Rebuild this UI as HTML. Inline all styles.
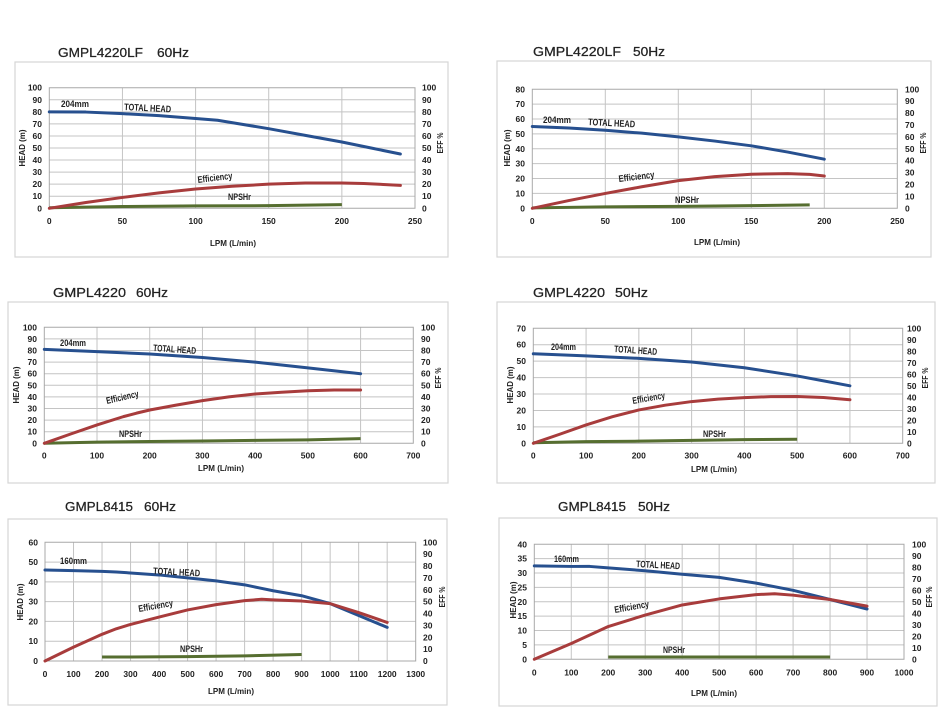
<!DOCTYPE html>
<html><head><meta charset="utf-8"><style>
html,body{margin:0;padding:0;background:#fff;}
svg{display:block;}
.t{font-family:"Liberation Sans",sans-serif;font-size:13px;fill:#222;stroke:#222;stroke-width:0.25;}
.k{font-family:"Liberation Sans",sans-serif;font-size:8.5px;font-weight:bold;fill:#222;}
.a{font-family:"Liberation Sans",sans-serif;font-size:8.5px;font-weight:bold;fill:#222;}
.c{font-family:"Liberation Sans",sans-serif;font-size:9.5px;font-weight:bold;fill:#222;}
.box{fill:#fff;stroke:#d6d6d6;stroke-width:1.2;}
.g{fill:none;stroke:#c4c4c4;stroke-width:1;}
.b{fill:none;stroke:#a8a8a8;stroke-width:1;}
.h{fill:none;stroke:#27508f;stroke-width:3;stroke-linejoin:round;stroke-linecap:round;}
.e{fill:none;stroke:#a83c3c;stroke-width:3;stroke-linejoin:round;stroke-linecap:round;}
.n{fill:none;stroke:#566e30;stroke-width:3;stroke-linejoin:round;}
</style></head><body>
<svg width="940" height="722" viewBox="0 0 940 722" xmlns="http://www.w3.org/2000/svg">
<rect x="0" y="0" width="940" height="722" fill="#fff"/>

<!-- ============ CHART 1 ============ -->
<rect class="box" x="15" y="62" width="433" height="195"/>
<text class="t" x="58" y="57" textLength="85" lengthAdjust="spacingAndGlyphs">GMPL4220LF</text>
<text class="t" x="157" y="57" textLength="32" lengthAdjust="spacingAndGlyphs">60Hz</text>
<g transform="translate(49.3,208.3) scale(1.4628,-1.206)">
<path class="g" vector-effect="non-scaling-stroke" d="M0 10H250M0 20H250M0 30H250M0 40H250M0 50H250M0 60H250M0 70H250M0 80H250M0 90H250M50 0V100M100 0V100M150 0V100M200 0V100"/>
<rect class="b" vector-effect="non-scaling-stroke" x="0" y="0" width="250" height="100"/>
<polyline class="n" vector-effect="non-scaling-stroke" points="0,0.5 50,1.5 100,2 150,2.2 200,3"/>
<polyline class="e" vector-effect="non-scaling-stroke" points="0,0 25,4.8 50,9 75,12.8 100,16 125,18.3 150,20 175,21 200,21 215,20.6 240,19"/>
<polyline class="h" vector-effect="non-scaling-stroke" points="0,80 25,79.8 50,78.5 75,76.8 100,74.5 115,73 130,70 150,66 175,60.5 200,55 220,50 240,45"/>
</g>
<g class="k" text-anchor="end">
<text x="42" y="211.3">0</text><text x="42" y="199.2">10</text><text x="42" y="187.2">20</text><text x="42" y="175.1">30</text><text x="42" y="163.1">40</text><text x="42" y="151">50</text><text x="42" y="138.9">60</text><text x="42" y="126.9">70</text><text x="42" y="114.8">80</text><text x="42" y="102.8">90</text><text x="42" y="90.7">100</text>
</g>
<g class="k">
<text x="422" y="211.3">0</text><text x="422" y="199.2">10</text><text x="422" y="187.2">20</text><text x="422" y="175.1">30</text><text x="422" y="163.1">40</text><text x="422" y="151">50</text><text x="422" y="138.9">60</text><text x="422" y="126.9">70</text><text x="422" y="114.8">80</text><text x="422" y="102.8">90</text><text x="422" y="90.7">100</text>
</g>
<g class="k" text-anchor="middle">
<text x="49.3" y="224">0</text><text x="122.4" y="224">50</text><text x="195.6" y="224">100</text><text x="268.7" y="224">150</text><text x="341.9" y="224">200</text><text x="415" y="224">250</text>
</g>
<text class="a" text-anchor="middle" transform="translate(25,148) rotate(-90)" textLength="37" lengthAdjust="spacingAndGlyphs">HEAD (m)</text>
<text class="a" text-anchor="middle" transform="translate(443,143) rotate(-90)" textLength="21" lengthAdjust="spacingAndGlyphs">EFF %</text>
<text class="a" x="233" y="246" text-anchor="middle" textLength="46" lengthAdjust="spacingAndGlyphs">LPM (L/min)</text>
<text class="c" x="61" y="107" textLength="28" lengthAdjust="spacingAndGlyphs">204mm</text>
<text class="c" x="124" y="110" textLength="47" lengthAdjust="spacingAndGlyphs" transform="rotate(3,124,110)">TOTAL HEAD</text>
<text class="c" x="198" y="183" textLength="35" lengthAdjust="spacingAndGlyphs" transform="rotate(-7,198,183)">Efficiency</text>
<text class="c" x="228" y="200" textLength="23" lengthAdjust="spacingAndGlyphs">NPSHr</text>

<!-- ============ CHART 2 ============ -->
<rect class="box" x="497" y="61" width="434" height="196"/>
<text class="t" x="533" y="56" textLength="88" lengthAdjust="spacingAndGlyphs">GMPL4220LF</text>
<text class="t" x="633" y="56" textLength="32" lengthAdjust="spacingAndGlyphs">50Hz</text>
<g transform="translate(532.3,208.3) scale(1.46,-1.4875)">
<path class="g" vector-effect="non-scaling-stroke" d="M0 10H250M0 20H250M0 30H250M0 40H250M0 50H250M0 60H250M0 70H250M50 0V80M100 0V80M150 0V80M200 0V80"/>
<rect class="b" vector-effect="non-scaling-stroke" x="0" y="0" width="250" height="80"/>
<polyline class="n" vector-effect="non-scaling-stroke" points="0,0.3 50,1 100,1.3 150,1.8 190,2.3"/>
<polyline class="e" vector-effect="non-scaling-stroke" points="0,0 25,5.2 50,10 75,14.5 100,18.6 125,21.3 150,22.9 175,23.3 190,22.8 200,21.7"/>
<polyline class="h" vector-effect="non-scaling-stroke" points="0,55 25,54 50,52.5 75,50.5 100,48 125,45.2 150,42 175,37.8 200,33"/>
</g>
<g class="k" text-anchor="end">
<text x="525" y="211.3">0</text><text x="525" y="196.4">10</text><text x="525" y="181.5">20</text><text x="525" y="166.7">30</text><text x="525" y="151.8">40</text><text x="525" y="136.9">50</text><text x="525" y="122.1">60</text><text x="525" y="107.2">70</text><text x="525" y="92.3">80</text>
</g>
<g class="k">
<text x="905" y="211.3">0</text><text x="905" y="199.4">10</text><text x="905" y="187.5">20</text><text x="905" y="175.6">30</text><text x="905" y="163.7">40</text><text x="905" y="151.8">50</text><text x="905" y="139.9">60</text><text x="905" y="128">70</text><text x="905" y="116.1">80</text><text x="905" y="104.2">90</text><text x="905" y="92.3">100</text>
</g>
<g class="k" text-anchor="middle">
<text x="532.3" y="224">0</text><text x="605.3" y="224">50</text><text x="678.3" y="224">100</text><text x="751.3" y="224">150</text><text x="824.3" y="224">200</text><text x="897.3" y="224">250</text>
</g>
<text class="a" text-anchor="middle" transform="translate(510,148) rotate(-90)" textLength="37" lengthAdjust="spacingAndGlyphs">HEAD (m)</text>
<text class="a" text-anchor="middle" transform="translate(926,143) rotate(-90)" textLength="21" lengthAdjust="spacingAndGlyphs">EFF %</text>
<text class="a" x="717" y="245" text-anchor="middle" textLength="46" lengthAdjust="spacingAndGlyphs">LPM (L/min)</text>
<text class="c" x="543" y="123" textLength="28" lengthAdjust="spacingAndGlyphs">204mm</text>
<text class="c" x="588" y="125" textLength="47" lengthAdjust="spacingAndGlyphs" transform="rotate(3,588,125)">TOTAL HEAD</text>
<text class="c" x="619" y="182" textLength="36" lengthAdjust="spacingAndGlyphs" transform="rotate(-7,619,182)">Efficiency</text>
<text class="c" x="675" y="203" textLength="24" lengthAdjust="spacingAndGlyphs">NPSHr</text>

<!-- ============ CHART 3 ============ -->
<rect class="box" x="8" y="302" width="440" height="181"/>
<text class="t" x="53" y="297" textLength="73" lengthAdjust="spacingAndGlyphs">GMPL4220</text>
<text class="t" x="136" y="297" textLength="32" lengthAdjust="spacingAndGlyphs">60Hz</text>
<g transform="translate(44.3,443.3) scale(0.52714,-1.16)">
<path class="g" vector-effect="non-scaling-stroke" d="M0 10H700M0 20H700M0 30H700M0 40H700M0 50H700M0 60H700M0 70H700M0 80H700M0 90H700M100 0V100M200 0V100M300 0V100M400 0V100M500 0V100M600 0V100"/>
<rect class="b" vector-effect="non-scaling-stroke" x="0" y="0" width="700" height="100"/>
<polyline class="n" vector-effect="non-scaling-stroke" points="0,0 100,1 200,1.5 300,2 400,2.5 500,3 600,4"/>
<polyline class="e" vector-effect="non-scaling-stroke" points="0,0 50,8 100,15.8 150,23 175,26 200,28.7 250,32.9 300,36.8 350,40 400,42.5 450,44 500,45.3 550,46 600,46"/>
<polyline class="h" vector-effect="non-scaling-stroke" points="0,81 100,79 200,77 300,74 400,70 500,65 600,60"/>
</g>
<g class="k" text-anchor="end">
<text x="37" y="446.3">0</text><text x="37" y="434.7">10</text><text x="37" y="423.1">20</text><text x="37" y="411.5">30</text><text x="37" y="399.9">40</text><text x="37" y="388.3">50</text><text x="37" y="376.7">60</text><text x="37" y="365.1">70</text><text x="37" y="353.5">80</text><text x="37" y="341.9">90</text><text x="37" y="330.3">100</text>
</g>
<g class="k">
<text x="421" y="446.3">0</text><text x="421" y="434.7">10</text><text x="421" y="423.1">20</text><text x="421" y="411.5">30</text><text x="421" y="399.9">40</text><text x="421" y="388.3">50</text><text x="421" y="376.7">60</text><text x="421" y="365.1">70</text><text x="421" y="353.5">80</text><text x="421" y="341.9">90</text><text x="421" y="330.3">100</text>
</g>
<g class="k" text-anchor="middle">
<text x="44.3" y="458.5">0</text><text x="97" y="458.5">100</text><text x="149.7" y="458.5">200</text><text x="202.4" y="458.5">300</text><text x="255.2" y="458.5">400</text><text x="307.9" y="458.5">500</text><text x="360.6" y="458.5">600</text><text x="413.3" y="458.5">700</text>
</g>
<text class="a" text-anchor="middle" transform="translate(19,385) rotate(-90)" textLength="37" lengthAdjust="spacingAndGlyphs">HEAD (m)</text>
<text class="a" text-anchor="middle" transform="translate(441,378) rotate(-90)" textLength="21" lengthAdjust="spacingAndGlyphs">EFF %</text>
<text class="a" x="221" y="471" text-anchor="middle" textLength="46" lengthAdjust="spacingAndGlyphs">LPM (L/min)</text>
<text class="c" x="60" y="346" textLength="26" lengthAdjust="spacingAndGlyphs">204mm</text>
<text class="c" x="153" y="351" textLength="43" lengthAdjust="spacingAndGlyphs" transform="rotate(4,153,351)">TOTAL HEAD</text>
<text class="c" x="107" y="404" textLength="33" lengthAdjust="spacingAndGlyphs" transform="rotate(-13,107,404)">Efficiency</text>
<text class="c" x="119" y="437" textLength="23" lengthAdjust="spacingAndGlyphs">NPSHr</text>

<!-- ============ CHART 4 ============ -->
<rect class="box" x="497" y="302" width="438" height="181"/>
<text class="t" x="533" y="297" textLength="72" lengthAdjust="spacingAndGlyphs">GMPL4220</text>
<text class="t" x="615" y="297" textLength="33" lengthAdjust="spacingAndGlyphs">50Hz</text>
<g transform="translate(533.3,443.3) scale(0.52771,-1.642857)">
<path class="g" vector-effect="non-scaling-stroke" d="M0 10H700M0 20H700M0 30H700M0 40H700M0 50H700M0 60H700M100 0V70M200 0V70M300 0V70M400 0V70M500 0V70M600 0V70"/>
<rect class="b" vector-effect="non-scaling-stroke" x="0" y="0" width="700" height="70"/>
<polyline class="n" vector-effect="non-scaling-stroke" points="0,0.3 100,1 200,1.3 300,1.8 400,2.2 500,2.5"/>
<polyline class="e" vector-effect="non-scaling-stroke" points="0,0 50,5.5 100,11.2 150,16.2 200,20.3 250,23.2 300,25.4 350,26.9 400,27.8 450,28.4 500,28.5 550,27.9 600,26.5"/>
<polyline class="h" vector-effect="non-scaling-stroke" points="0,54.5 100,53.2 200,51.7 300,49.5 400,46 500,41 600,35"/>
</g>
<g class="k" text-anchor="end">
<text x="526" y="446.3">0</text><text x="526" y="429.9">10</text><text x="526" y="413.4">20</text><text x="526" y="397">30</text><text x="526" y="380.6">40</text><text x="526" y="364.2">50</text><text x="526" y="347.7">60</text><text x="526" y="331.3">70</text>
</g>
<g class="k">
<text x="907" y="446.3">0</text><text x="907" y="434.8">10</text><text x="907" y="423.3">20</text><text x="907" y="411.8">30</text><text x="907" y="400.3">40</text><text x="907" y="388.8">50</text><text x="907" y="377.3">60</text><text x="907" y="365.8">70</text><text x="907" y="354.3">80</text><text x="907" y="342.8">90</text><text x="907" y="331.3">100</text>
</g>
<g class="k" text-anchor="middle">
<text x="533.3" y="458.5">0</text><text x="586.1" y="458.5">100</text><text x="638.8" y="458.5">200</text><text x="691.6" y="458.5">300</text><text x="744.4" y="458.5">400</text><text x="797.2" y="458.5">500</text><text x="849.9" y="458.5">600</text><text x="902.7" y="458.5">700</text>
</g>
<text class="a" text-anchor="middle" transform="translate(513,385) rotate(-90)" textLength="37" lengthAdjust="spacingAndGlyphs">HEAD (m)</text>
<text class="a" text-anchor="middle" transform="translate(928,378) rotate(-90)" textLength="21" lengthAdjust="spacingAndGlyphs">EFF %</text>
<text class="a" x="714" y="472" text-anchor="middle" textLength="46" lengthAdjust="spacingAndGlyphs">LPM (L/min)</text>
<text class="c" x="551" y="350" textLength="25" lengthAdjust="spacingAndGlyphs">204mm</text>
<text class="c" x="614" y="352" textLength="43" lengthAdjust="spacingAndGlyphs" transform="rotate(4,614,352)">TOTAL HEAD</text>
<text class="c" x="633" y="404" textLength="33" lengthAdjust="spacingAndGlyphs" transform="rotate(-10,633,404)">Efficiency</text>
<text class="c" x="703" y="437" textLength="23" lengthAdjust="spacingAndGlyphs">NPSHr</text>

<!-- ============ CHART 5 ============ -->
<rect class="box" x="8" y="519" width="439" height="186"/>
<text class="t" x="65" y="511" textLength="68" lengthAdjust="spacingAndGlyphs">GMPL8415</text>
<text class="t" x="144" y="511" textLength="32" lengthAdjust="spacingAndGlyphs">60Hz</text>
<g transform="translate(45,661) scale(0.28515,-1.97833)">
<path class="g" vector-effect="non-scaling-stroke" d="M0 10H1300M0 20H1300M0 30H1300M0 40H1300M0 50H1300M100 0V60M200 0V60M300 0V60M400 0V60M500 0V60M600 0V60M700 0V60M800 0V60M900 0V60M1000 0V60M1100 0V60M1200 0V60"/>
<rect class="b" vector-effect="non-scaling-stroke" x="0" y="0" width="1300" height="60"/>
<polyline class="n" vector-effect="non-scaling-stroke" points="200,2 300,2 500,2.2 700,2.6 900,3.3"/>
<polyline class="h" vector-effect="non-scaling-stroke" points="0,46 100,45.7 200,45.3 250,45 300,44.5 400,43.5 500,42 600,40.5 700,38.5 750,37 800,35.5 900,33 1000,29 1100,23 1200,17"/>
<polyline class="e" vector-effect="non-scaling-stroke" points="0,0 100,7 200,13.5 250,16.3 300,18.5 400,22.2 500,25.8 600,28.5 700,30.5 760,31.2 800,30.9 900,30.3 1000,29 1100,24.5 1200,19.5"/>
</g>
<g class="k" text-anchor="end">
<text x="38" y="664">0</text><text x="38" y="644.2">10</text><text x="38" y="624.4">20</text><text x="38" y="604.6">30</text><text x="38" y="584.9">40</text><text x="38" y="565.1">50</text><text x="38" y="545.3">60</text>
</g>
<g class="k">
<text x="423" y="664">0</text><text x="423" y="652.1">10</text><text x="423" y="640.3">20</text><text x="423" y="628.4">30</text><text x="423" y="616.5">40</text><text x="423" y="604.7">50</text><text x="423" y="592.8">60</text><text x="423" y="580.9">70</text><text x="423" y="569">80</text><text x="423" y="557.2">90</text><text x="423" y="545.3">100</text>
</g>
<g class="k" text-anchor="middle">
<text x="45" y="677">0</text><text x="73.5" y="677">100</text><text x="102" y="677">200</text><text x="130.5" y="677">300</text><text x="159.1" y="677">400</text><text x="187.6" y="677">500</text><text x="216.1" y="677">600</text><text x="244.6" y="677">700</text><text x="273.1" y="677">800</text><text x="301.6" y="677">900</text><text x="330.2" y="677">1000</text><text x="358.7" y="677">1100</text><text x="387.2" y="677">1200</text><text x="415.7" y="677">1300</text>
</g>
<text class="a" text-anchor="middle" transform="translate(23,602) rotate(-90)" textLength="37" lengthAdjust="spacingAndGlyphs">HEAD (m)</text>
<text class="a" text-anchor="middle" transform="translate(445,597) rotate(-90)" textLength="21" lengthAdjust="spacingAndGlyphs">EFF %</text>
<text class="a" x="231" y="694" text-anchor="middle" textLength="46" lengthAdjust="spacingAndGlyphs">LPM (L/min)</text>
<text class="c" x="60" y="564" textLength="27" lengthAdjust="spacingAndGlyphs">160mm</text>
<text class="c" x="153" y="574" textLength="47" lengthAdjust="spacingAndGlyphs" transform="rotate(3,153,574)">TOTAL HEAD</text>
<text class="c" x="139" y="612" textLength="35" lengthAdjust="spacingAndGlyphs" transform="rotate(-10,139,612)">Efficiency</text>
<text class="c" x="180" y="652" textLength="23" lengthAdjust="spacingAndGlyphs">NPSHr</text>

<!-- ============ CHART 6 ============ -->
<rect class="box" x="499" y="518" width="438" height="188"/>
<text class="t" x="558" y="511" textLength="68" lengthAdjust="spacingAndGlyphs">GMPL8415</text>
<text class="t" x="638" y="511" textLength="32" lengthAdjust="spacingAndGlyphs">50Hz</text>
<g transform="translate(534.3,659.3) scale(0.3697,-2.875)">
<path class="g" vector-effect="non-scaling-stroke" d="M0 5H1000M0 10H1000M0 15H1000M0 20H1000M0 25H1000M0 30H1000M0 35H1000M100 0V40M200 0V40M300 0V40M400 0V40M500 0V40M600 0V40M700 0V40M800 0V40M900 0V40"/>
<rect class="b" vector-effect="non-scaling-stroke" x="0" y="0" width="1000" height="40"/>
<polyline class="n" vector-effect="non-scaling-stroke" points="200,0.8 800,0.8"/>
<polyline class="h" vector-effect="non-scaling-stroke" points="0,32.5 100,32.3 150,32.3 200,31.8 300,30.8 400,29.6 500,28.5 600,26.5 700,24 800,20.8 900,17.5"/>
<polyline class="e" vector-effect="non-scaling-stroke" points="0,0 100,5.5 200,11.4 300,15.4 400,18.9 500,21 600,22.5 650,22.8 700,22.3 800,20.8 900,18.5"/>
</g>
<g class="k" text-anchor="end">
<text x="527" y="662.3">0</text><text x="527" y="647.9">5</text><text x="527" y="633.6">10</text><text x="527" y="619.2">15</text><text x="527" y="604.8">20</text><text x="527" y="590.4">25</text><text x="527" y="576.1">30</text><text x="527" y="561.7">35</text><text x="527" y="547.3">40</text>
</g>
<g class="k">
<text x="912" y="662.3">0</text><text x="912" y="650.8">10</text><text x="912" y="639.3">20</text><text x="912" y="627.8">30</text><text x="912" y="616.3">40</text><text x="912" y="604.8">50</text><text x="912" y="593.3">60</text><text x="912" y="581.8">70</text><text x="912" y="570.3">80</text><text x="912" y="558.8">90</text><text x="912" y="547.3">100</text>
</g>
<g class="k" text-anchor="middle">
<text x="534.3" y="675.5">0</text><text x="571.3" y="675.5">100</text><text x="608.2" y="675.5">200</text><text x="645.2" y="675.5">300</text><text x="682.2" y="675.5">400</text><text x="719.2" y="675.5">500</text><text x="756.1" y="675.5">600</text><text x="793.1" y="675.5">700</text><text x="830.1" y="675.5">800</text><text x="867" y="675.5">900</text><text x="904" y="675.5">1000</text>
</g>
<text class="a" text-anchor="middle" transform="translate(516,600) rotate(-90)" textLength="37" lengthAdjust="spacingAndGlyphs">HEAD (m)</text>
<text class="a" text-anchor="middle" transform="translate(932,597) rotate(-90)" textLength="21" lengthAdjust="spacingAndGlyphs">EFF %</text>
<text class="a" x="714" y="696" text-anchor="middle" textLength="46" lengthAdjust="spacingAndGlyphs">LPM (L/min)</text>
<text class="c" x="554" y="562" textLength="25" lengthAdjust="spacingAndGlyphs">160mm</text>
<text class="c" x="636" y="567" textLength="44" lengthAdjust="spacingAndGlyphs" transform="rotate(3,636,567)">TOTAL HEAD</text>
<text class="c" x="615" y="613" textLength="35" lengthAdjust="spacingAndGlyphs" transform="rotate(-10,615,613)">Efficiency</text>
<text class="c" x="663" y="653" textLength="22" lengthAdjust="spacingAndGlyphs">NPSHr</text>
</svg>
</body></html>
